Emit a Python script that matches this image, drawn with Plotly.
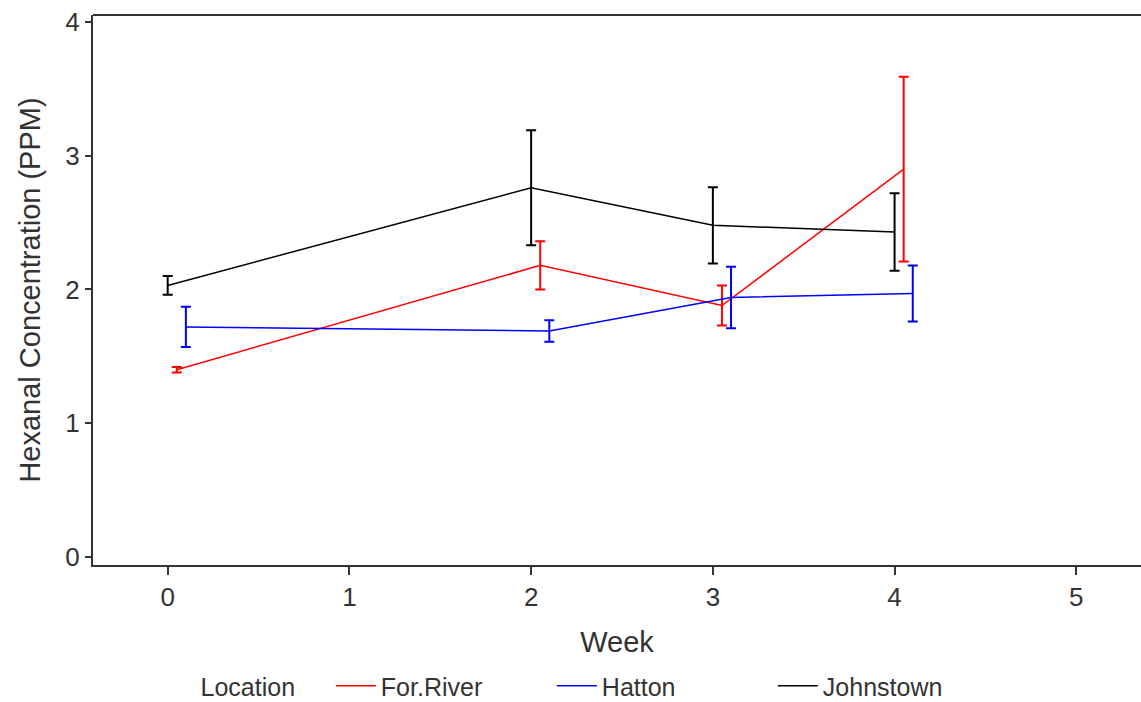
import plotly.graph_objects as go

weeks = [0, 2, 3, 4]
locations = ["For.River", "Hatton", "Johnstown"]
colors = ["#FF0000", "#0000FF", "#000000"]
means = {
    "For.River": [1.40, 2.18, 1.88, 2.90],
    "Hatton": [1.72, 1.69, 1.94, 1.97],
    "Johnstown": [2.03, 2.76, 2.48, 2.43],
}
errs = {
    "For.River": [0.02, 0.18, 0.15, 0.69],
    "Hatton": [0.15, 0.08, 0.23, 0.21],
    "Johnstown": [0.07, 0.43, 0.285, 0.29],
}
dodge = {"For.River": 0.05, "Hatton": 0.10, "Johnstown": 0.0}
x_ticks = [0, 1, 2, 3, 4, 5]
y_ticks = [0, 1, 2, 3, 4]

FONT = "Liberation Sans, Arial, sans-serif"
fig = go.Figure()
for loc, col in zip(locations, colors):
    fig.add_trace(go.Scatter(
        x=[w + dodge[loc] for w in weeks],
        y=means[loc],
        mode="lines",
        name=loc,
        line=dict(color=col, width=1.5),
        error_y=dict(type="data", array=errs[loc], visible=True,
                     color=col, thickness=2, width=5),
    ))

fig.update_layout(
    width=1141, height=702,
    margin=dict(l=93, r=0, t=15, b=137, autoexpand=False),
    paper_bgcolor="white", plot_bgcolor="white",
    font=dict(family=FONT, size=25, color="#333333"),
    showlegend=True,
    legend=dict(
        orientation="h", yref="container", y=1 - 663 / 702, yanchor="top",
        xref="container", x=0.174, xanchor="left",
        title=dict(text="Location    ", side="left", font=dict(size=25)),
        font=dict(size=25, color="#333333"),
        entrywidth=166, itemwidth=40,
        bgcolor="rgba(0,0,0,0)",
    ),
    xaxis=dict(
        range=[-0.411, 5.356], tickmode="array", tickvals=x_ticks,
        ticktext=[str(t) for t in x_ticks],
        showgrid=False, zeroline=False, automargin=False,
        showline=True, linecolor="#333333", linewidth=2,
        ticks="outside", ticklen=8, tickwidth=2, tickcolor="#333333",
        tickfont=dict(size=26),
        title=dict(text="Week", font=dict(size=29), standoff=20),
    ),
    yaxis=dict(
        range=[-0.06, 4.052], tickmode="array", tickvals=y_ticks,
        ticktext=[str(t) for t in y_ticks],
        showgrid=False, zeroline=False, automargin=False,
        showline=True, linecolor="#333333", linewidth=2,
        ticks="outside", ticklen=6, tickwidth=2, tickcolor="#333333",
        tickfont=dict(size=26),
        title=dict(text="Hexanal Concentration (PPM)", font=dict(size=29), standoff=16),
    ),
    shapes=[dict(type="line", xref="paper", yref="paper", x0=0, x1=1, y0=1, y1=1,
                 line=dict(color="#333333", width=2))],
)

fig.write_html("out.html", config={"displayModeBar": False},
               post_script="document.body.style.margin='0px';")
